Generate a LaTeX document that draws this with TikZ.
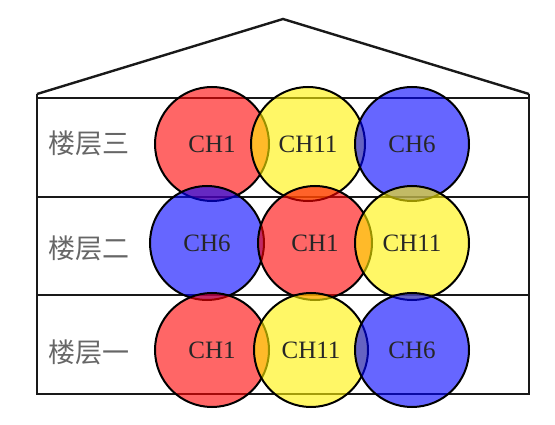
\documentclass[tikz,border=0pt]{standalone}
\usepackage{fontspec}
\setmainfont{Liberation Serif}
\newfontfamily\cjk{Noto Sans CJK SC}
\begin{document}
\begin{tikzpicture}[x=1pt,y=-1pt,
  wall/.style={line width=2.4pt,black!90,line join=miter},
  cell/.style={circle,draw=black,line width=2pt,minimum size=114pt,inner sep=0pt,
    fill opacity=0.6,draw opacity=1,text opacity=1,text=black!85,font=\fontsize{25}{25}\selectfont},
  chred/.style={cell,fill=red},
  chyel/.style={cell,fill=yellow},
  chblu/.style={cell,fill=blue},
  floorlab/.style={text=black!60,font=\cjk\fontsize{27}{27}\selectfont,inner sep=0pt}]
\useasboundingbox (0,0) rectangle (555,425);
% building
\coordinate (rl) at (37,94);
\coordinate (apex) at (283,19);
\coordinate (rr) at (529,94);
\coordinate (bl) at (37,394);
\coordinate (br) at (529,394);
\draw[wall] (rl) -- (apex) -- (rr);
\draw[wall] (rl) -- (bl) -- (br) -- (rr);
\draw[wall] (37,98) -- (529,98);
\draw[wall] (37,197) -- (529,197);
\draw[wall] (37,295) -- (529,295);
% floor labels
\node[floorlab] (f3) at (89,143) {楼层三};
\node[floorlab] (f2) at (89,248) {楼层二};
\node[floorlab] (f1) at (89,352) {楼层一};
% top row
\node[chred] (t1) at (212,144) {CH1};
\node[chyel] (t2) at (308,144) {CH11};
\node[chblu] (t3) at (412,144) {CH6};
% middle row
\node[chblu] (m1) at (207,243) {CH6};
\node[chred] (m2) at (315,243) {CH1};
\node[chyel] (m3) at (412,243) {CH11};
% bottom row
\node[chred] (b1) at (212,350) {CH1};
\node[chyel] (b2) at (311,350) {CH11};
\node[chblu] (b3) at (412,350) {CH6};
\end{tikzpicture}
\end{document}
